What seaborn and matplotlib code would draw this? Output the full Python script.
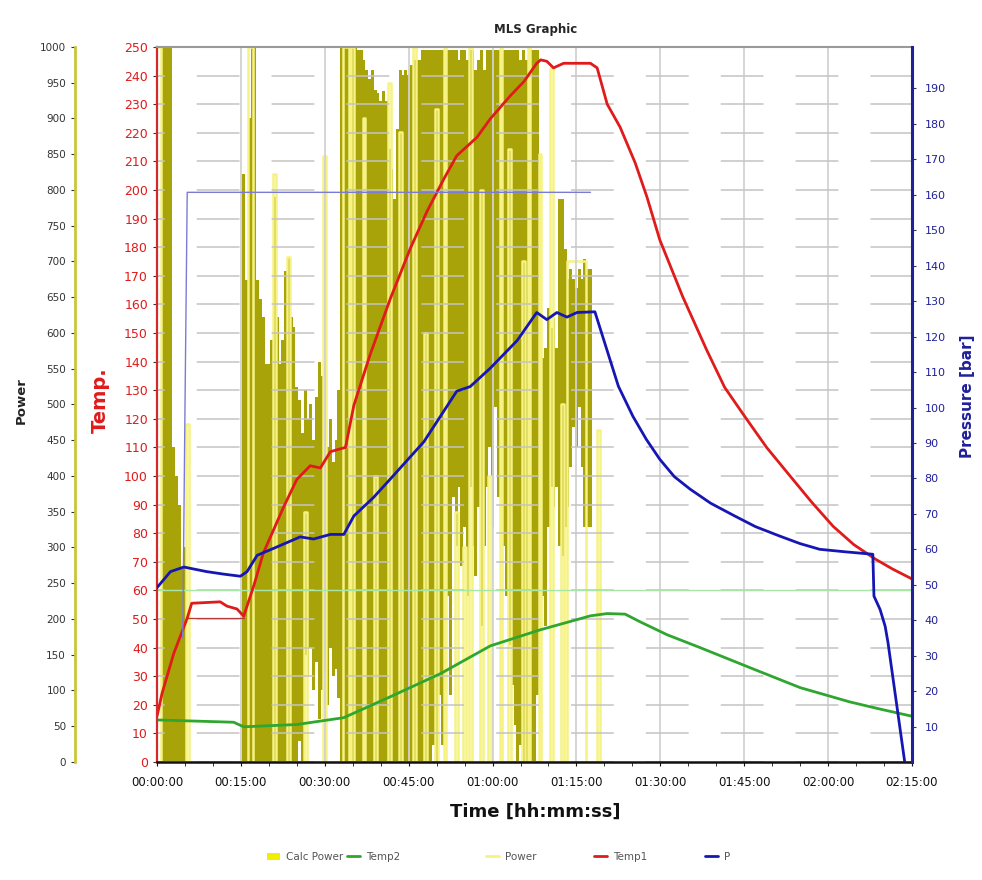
import numpy as np
import pandas as pd
import matplotlib
matplotlib.use('Agg')
import matplotlib.pyplot as plt
import seaborn as sns
from matplotlib.lines import Line2D
from matplotlib.patches import Patch
from matplotlib.ticker import MultipleLocator, FixedLocator, FuncFormatter

sns.set_style('white')
plt.rcParams['font.family'] = ['DejaVu Sans']

# Temp1 [°C] über Zeit [min]
temp1_t = [0, 0.9, 3, 5.4, 6.2, 11.3, 12.5, 14.3, 15.5, 17.3, 19, 22.6, 25, 27.4, 29.2, 31, 33.7,
           35.2, 38.1, 41.7, 45.3, 48.3, 51.3, 53.6, 57.2, 59.6, 63.2, 65.6, 67.9, 68.6, 69.7,
           70.9, 72.7, 77.5, 78.7, 80.5, 82.8, 85.5, 87.6, 89.9, 94, 98.3, 101.5, 105.1, 109,
           113.2, 117, 120.9, 124.6, 128.4, 131.5, 135]
temp1_v = [16, 24, 38, 50.3, 55.5, 56, 54.5, 53.5, 51, 61.6, 73, 89, 98.8, 103.6, 102.8, 108.5,
           110, 124.7, 142.4, 161.9, 179.6, 192.6, 203.9, 212, 218.4, 224.9, 233, 237.9, 244.3,
           245.5, 245, 242.7, 244.3, 244.3, 242.7, 230, 222, 209.5, 197.6, 182.6, 162.7, 144,
           131, 120.8, 110, 100, 91, 82.4, 76, 71, 67.5, 64]

# Temp2 [°C]
temp2_t = [0, 13.7, 15.5, 25, 33.4, 41.7, 50.7, 59.6, 68.5, 77.5, 80.5, 83.7, 86.4, 91.2, 97.1,
           106, 115, 123.9, 129.3, 135]
temp2_v = [14.7, 13.9, 12.3, 13.1, 15.5, 22.8, 30.9, 40.6, 46.2, 51.1, 51.9, 51.7, 49, 44.5,
           40, 33, 26, 21, 18.5, 16]

# P [bar]
p_t = [0, 2.4, 4.8, 8.9, 11.9, 14.9, 16.1, 17.9, 20.9, 25.6, 28, 31, 33.4, 35.2, 38.7, 41.7,
       47.7, 53.6, 56, 59.6, 64.4, 67.9, 69.7, 71.5, 73.3, 75.1, 78.3, 80.5, 82.5, 85.1, 87.5,
       89.9, 92.5, 95.3, 99, 103.3, 107, 111.4, 115, 118.5, 123, 128, 128.2, 129.3, 130.2,
       130.7, 133.7]
p_v = [49.2, 53.7, 55, 53.7, 53, 52.4, 53.7, 58.3, 60.3, 63.5, 62.9, 64.2, 64.2, 69.4, 74.6,
       79.8, 90.3, 104.6, 105.9, 111.1, 118.9, 126.8, 124.8, 126.8, 125.5, 126.8, 127, 116,
       106, 97.5, 91, 85.4, 80.5, 77, 73, 69.4, 66.4, 63.7, 61.6, 60, 59.3, 58.6, 46.8, 43,
       38.3, 33.8, 0]

# Druckgrenze und Temperatur-Sollwert (dünne Linien)
plim_t = [4.6, 5.0, 5.4, 77.5]
plim_v = [35, 100, 160.7, 160.7]
tset_t = [5.4, 15.5]
tset_v = [50.3, 50.3]

# Leistung [W], Abtastung alle 0.5 min von 0 bis 80 min
pow_t = np.arange(0, 80.5, 0.5)
calc_hi = [0, 0, 1000, 1000, 1000, 1000, 440, 400, 360, 270,
           300, 0, 0, 0, 0, 0, 0, 0, 0, 0,
           0, 0, 0, 0, 0, 0, 0, 0, 0, 0,
           0, 822, 674, 900, 1000, 1000, 674, 648, 622, 557,
           557, 590, 790, 622, 557, 590, 687, 706, 622, 609,
           525, 506, 460, 520, 480, 500, 450, 510, 560, 540,
           560, 440, 480, 420, 450, 520, 1000, 1000, 1000, 1000,
           1000, 1000, 996, 996, 982, 968, 955, 968, 940, 935,
           924, 938, 924, 857, 829, 788, 885, 968, 961, 968,
           961, 975, 982, 982, 982, 996, 996, 996, 996, 996,
           996, 996, 996, 996, 996, 996, 996, 996, 982, 996,
           996, 982, 996, 996, 968, 982, 996, 968, 996, 996,
           996, 996, 996, 996, 996, 996, 996, 996, 996, 996,
           982, 996, 982, 996, 996, 996, 996, 663, 565, 579,
           635, 607, 621, 579, 788, 788, 718, 676, 690, 676,
           663, 690, 676, 704, 690, 690, 0, 0, 0, 0,
           0]
calc_lo = [0, 0, 0, 0, 0, 0, 0, 0, 0, 0,
           0, 0, 0, 0, 0, 0, 0, 0, 0, 0,
           0, 0, 0, 0, 0, 0, 0, 0, 0, 0,
           0, 0, 0, 0, 0, 0, 0, 0, 0, 0,
           0, 0, 0, 0, 0, 0, 0, 0, 0, 0,
           0, 30, 0, 150, 120, 160, 100, 140, 60, 100,
           130, 80, 160, 120, 130, 90, 0, 0, 0, 0,
           0, 0, 0, 0, 0, 0, 0, 0, 0, 0,
           0, 0, 0, 0, 0, 0, 0, 0, 0, 0,
           0, 0, 0, 0, 0, 0, 0, 0, 0, 24,
           0, 93, 24, 163, 232, 93, 371, 302, 385, 274,
           329, 232, 385, 302, 260, 357, 190, 302, 385, 440,
           329, 496, 371, 440, 302, 232, 163, 107, 52, 0,
           24, 0, 0, 0, 0, 0, 93, 385, 232, 190,
           329, 385, 357, 385, 302, 288, 329, 357, 413, 468,
           440, 496, 413, 329, 329, 329, 0, 0, 0, 0,
           0]
power = [1000, 1000, 0, 0, 0, 0, 0, 0, 0, 0,
         0, 473, 0, 0, 0, 0, 0, 0, 0, 0,
         0, 0, 0, 0, 0, 0, 0, 0, 0, 0,
         0, 0, 0, 1000, 1000, 0, 0, 0, 0, 0,
         0, 0, 822, 0, 0, 0, 0, 706, 0, 0,
         0, 0, 0, 350, 0, 0, 0, 0, 0, 0,
         848, 0, 0, 0, 0, 0, 0, 1000, 1000, 0,
         1000, 0, 0, 0, 900, 0, 0, 0, 400, 0,
         0, 0, 0, 950, 0, 0, 0, 881, 0, 0,
         0, 0, 1000, 0, 0, 0, 600, 0, 0, 0,
         913, 0, 0, 1000, 0, 0, 0, 350, 0, 0,
         300, 0, 1000, 0, 0, 0, 800, 0, 0, 400,
         0, 0, 0, 1000, 0, 0, 857, 0, 0, 0,
         0, 700, 0, 1000, 0, 0, 0, 850, 0, 0,
         0, 971, 0, 0, 0, 500, 0, 700, 700, 700,
         700, 700, 700, 700, 0, 0, 0, 0, 465, 0,
         0]

x_ticks = [0, 15, 30, 45, 60, 75, 90, 105, 120, 135]

c_red = '#e01b1b'
c_green = '#2fa62f'
c_blue = '#1616b4'
c_navy = '#20209a'
c_olive = '#a9a30a'
c_yel = '#f6f283'

fig = plt.figure(figsize=(9.82, 8.8), dpi=100)
ax = fig.add_axes([0.1599, 0.1341, 0.7688, 0.8125])
axw = ax.twinx()
axp = ax.twinx()
axw.set_zorder(1)
ax.set_zorder(2)
axp.set_zorder(3)
ax.patch.set_visible(False)
axp.patch.set_visible(False)

# Leistung (untere Ebene): Calc Power als Band, Power als Linie
axw.fill_between(pow_t, calc_lo, calc_hi, step='mid', color=c_olive, lw=0, zorder=1)
sns.lineplot(x=pow_t, y=power, ax=axw, color=c_yel, lw=1.8, drawstyle='steps-mid', zorder=2)
axw.set_ylim(0, 1000)
axw.yaxis.tick_left()
axw.spines['left'].set_visible(True)
axw.spines['left'].set_position(('outward', 59))
axw.spines['left'].set_color('#c9c63a')
axw.spines['left'].set_linewidth(2)
for s in ['right', 'top', 'bottom']:
    axw.spines[s].set_visible(False)
axw.yaxis.set_major_locator(MultipleLocator(50))
axw.tick_params(axis='y', labelsize=7.5, colors='#333333', length=3, direction='out')
axw.set_ylabel('')

# Temperaturen
ax.grid(axis='y', color='#c4c4c4', lw=1.1, linestyle=(23, (28, 21)))
ax.grid(axis='x', color='#d2d2d2', lw=1.3)
ax.axhline(60, color='#a6e6a6', lw=1, zorder=1)
sns.lineplot(x=tset_t, y=tset_v, ax=ax, color='#b23a3a', lw=0.9)
sns.lineplot(x=temp2_t, y=temp2_v, ax=ax, color=c_green, lw=2)
sns.lineplot(x=temp1_t, y=temp1_v, ax=ax, color=c_red, lw=2)
ax.set_ylim(0, 250)
ax.set_xlim(0, 135)
ax.yaxis.set_major_locator(MultipleLocator(10))
ax.xaxis.set_major_locator(FixedLocator(x_ticks))
ax.xaxis.set_minor_locator(MultipleLocator(5))
ax.xaxis.set_major_formatter(FuncFormatter(lambda m, p: '%02d:%02d:00' % (int(m) // 60, int(m) % 60)))
ax.tick_params(axis='y', labelsize=9, labelcolor=c_red, colors='#333333', length=3,
               direction='out', left=True)
ax.tick_params(axis='x', which='both', labelsize=8.5, length=3, direction='out', bottom=True,
               colors='#111111', pad=7)
ax.spines['left'].set_color('#d42a2a')
ax.spines['left'].set_linewidth(1.6)
ax.spines['bottom'].set_color('#111111')
ax.spines['bottom'].set_linewidth(1.8)
ax.spines['top'].set_color('#999999')
ax.spines['top'].set_linewidth(1.5)
ax.spines['right'].set_visible(False)
ax.set_xlabel('')
ax.set_ylabel('')

# Druck
sns.lineplot(x=plim_t, y=plim_v, ax=axp, color='#7b7bd6', lw=1)
sns.lineplot(x=p_t, y=p_v, ax=axp, color=c_blue, lw=2)
axp.set_ylim(0, 201.7)
axp.yaxis.set_major_locator(FixedLocator(list(range(10, 200, 10))))
axp.tick_params(axis='y', labelsize=8, labelcolor=c_navy, colors='#333366', length=3,
                direction='out', pad=6)
for s in ['left', 'top', 'bottom']:
    axp.spines[s].set_visible(False)
axp.spines['right'].set_color(c_navy)
axp.spines['right'].set_linewidth(2.2)
axp.set_ylabel('')

# Beschriftungen
fig.text(0.545, 0.967, 'MLS Graphic', ha='center', va='center', fontsize=8.5,
         fontweight='bold')
fig.text(0.022, 0.545, 'Power', rotation=90, ha='center', va='center', fontsize=9.5,
         fontweight='bold', color='#222222')
fig.text(0.102, 0.545, 'Temp.', rotation=90, ha='center', va='center', fontsize=14,
         fontweight='bold', color=c_red)
fig.text(0.985, 0.55, 'Pressure [bar]', rotation=90, ha='center', va='center', fontsize=11,
         fontweight='bold', color=c_navy)
fig.text(0.545, 0.077, 'Time [hh:mm:ss]', ha='center', va='center', fontsize=13,
         fontweight='bold', color='#111111')

# Legende in zwei Gruppen (ungleiche Abstände wie im Original)
leg_kw = dict(loc='center left', frameon=False, fontsize=7.5, handlelength=1.25,
              handletextpad=0.6, borderpad=0, borderaxespad=0, labelcolor='#555555')
fig.legend([Patch(facecolor='#f2ee00', edgecolor='none'), Line2D([], [], color=c_green, lw=2)],
           ['Calc Power', 'Temp2'], bbox_to_anchor=(0.272, 0.026), ncol=2,
           columnspacing=0.3, **leg_kw)
fig.legend([Line2D([], [], color=c_yel, lw=2), Line2D([], [], color=c_red, lw=2),
            Line2D([], [], color=c_blue, lw=2)],
           ['Power', 'Temp1', 'P'], bbox_to_anchor=(0.495, 0.026), ncol=3,
           columnspacing=5.5, **leg_kw)

fig.savefig('out.png', dpi=100)
